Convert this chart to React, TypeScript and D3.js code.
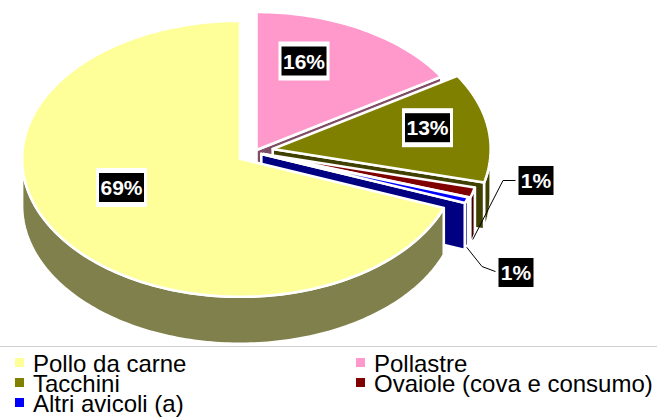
import React from "react";
import * as d3 from "d3";

// chart values
const categories = [
  "Pollo da carne",
  "Pollastre",
  "Tacchini",
  "Ovaiole (cova e consumo)",
  "Altri avicoli (a)",
];
const values = [69.2, 16.1, 12.8, 1.2, 0.7];
const labels = ["69%", "16%", "13%", "1%", "1%"];
const colors = ["#FFFF99", "#FF99CC", "#808000", "#800000", "#0000FF"];

// layout
const W = 657;
const H = 419;
const center: [number, number] = [250, 154.5];
const rx = 218;
const ry = 138;
const depth = 47;
// exploded offset of each slice from the pie centre
const shift: [number, number][] = [
  [-9.9, 4.3],
  [6.5, -4.5],
  [22.7, -5.5],
  [13.4, -0.5],
  [11.3, -0.6],
];
const labelAt: [number, number][] = [
  [121.5, 187.5],
  [304, 61],
  [427.5, 127.7],
  [536, 180.5],
  [516, 272.5],
];
const font = "'Liberation Sans', Arial, sans-serif";

type Pt = [number, number];

const project = (c: Pt, a: number, dy = 0): Pt => [
  c[0] + rx * Math.sin(a),
  c[1] - ry * Math.cos(a) + dy,
];

const arcPts = (c: Pt, a0: number, a1: number, dy = 0): Pt[] => {
  const n = Math.max(2, Math.ceil(Math.abs(a1 - a0) / 0.02));
  return d3.range(n + 1).map((i) => project(c, a0 + ((a1 - a0) * i) / n, dy));
};

const line = d3.line<Pt>().x((d) => d[0]).y((d) => d[1]);
const closed = (pts: Pt[]) => line(pts) + "Z";

const darker = (col: string) => {
  const c = d3.rgb(col);
  return d3.rgb(c.r * 0.5, c.g * 0.5, c.b * 0.5).formatHex();
};

// visible part of the outer wall (surface facing the viewer: cos(a) < 0)
const frontRanges = (a0: number, a1: number) => {
  const out: [number, number][] = [];
  for (let k = -2; k <= 1; k++) {
    const lo = Math.max(a0, Math.PI / 2 + 2 * Math.PI * k);
    const hi = Math.min(a1, (3 * Math.PI) / 2 + 2 * Math.PI * k);
    if (hi > lo) out.push([lo, hi]);
  }
  return out;
};

export default function App() {
  const total = d3.sum(values);
  const start = -(values[0] / total) * 2 * Math.PI;
  const arcs = d3
    .pie<number>()
    .sort(null)
    .startAngle(start)
    .endAngle(start + 2 * Math.PI)(values);

  const slices = arcs.map((a, i) => {
    const mid = (a.startAngle + a.endAngle) / 2;
    const c: Pt = [center[0] + shift[i][0], center[1] + shift[i][1]];
    return { i, a0: a.startAngle, a1: a.endAngle, mid, c };
  });

  const order = [...slices].sort((p, q) => Math.cos(q.mid) - Math.cos(p.mid));

  const walls = (s: (typeof slices)[number]) => {
    const { a0, a1, c } = s;
    const paths: string[] = [];
    const radial = (a: number) =>
      closed([c, project(c, a), project(c, a, depth), [c[0], c[1] + depth]]);
    if (Math.sin(a0) < -1e-6) paths.push(radial(a0));
    if (Math.sin(a1) > 1e-6) paths.push(radial(a1));
    frontRanges(a0, a1).forEach(([lo, hi]) => {
      paths.push(
        closed([...arcPts(c, lo, hi), ...arcPts(c, hi, lo, depth)]),
      );
    });
    return paths;
  };

  // leader lines for the two small slices
  const anchor = (s: (typeof slices)[number]) => project(s.c, s.mid, depth);
  const leaders: Pt[][] = [
    [
      [labelAt[3][0] - 18, labelAt[3][1]],
      [labelAt[3][0] - 33, labelAt[3][1]],
      anchor(slices[3]),
    ],
    [
      anchor(slices[4]),
      [labelAt[4][0] - 34, labelAt[4][1] - 6],
      [labelAt[4][0] - 18, labelAt[4][1]],
    ],
  ];

  const legendRows = [0, 0, 1, 1, 2];
  const legendCols = [0, 1, 0, 1, 0];
  const colX = [15, 356];
  const rowY = [372, 392, 412];

  return (
    <svg
      width={W}
      height={H}
      style={{ position: "absolute", left: 0, top: 0, background: "#fff" }}
    >
      <g>
        {order.map((s) => (
          <g key={s.i}>
            {walls(s).map((d, k) => (
              <path
                key={k}
                d={d}
                fill={darker(colors[s.i])}
                stroke="#fff"
                strokeWidth={2.6}
                strokeLinejoin="round"
              />
            ))}
            <path
              d={closed([s.c, ...arcPts(s.c, s.a0, s.a1)])}
              fill={colors[s.i]}
              stroke="#fff"
              strokeWidth={2.6}
              strokeLinejoin="round"
            />
          </g>
        ))}
      </g>

      {leaders.map((pts, k) => (
        <path key={k} d={line(pts)!} fill="none" stroke="#000" strokeWidth={1} />
      ))}

      {labels.map((t, i) => {
        const w = t.length > 2 ? 45 : 35;
        const [x, y] = labelAt[i];
        return (
          <g key={i}>
            <rect x={x - w / 2 - 3} y={y - 14.5 - 5} width={w + 6} height={39} fill="#fff" />
            <rect x={x - w / 2} y={y - 14.5} width={w} height={29} fill="#000" />
            <text
              x={x}
              y={y + 7.5}
              textAnchor="middle"
              fill="#fff"
              fontFamily={font}
              fontWeight="bold"
              fontSize={21}
            >
              {t}
            </text>
          </g>
        );
      })}

      <line x1={0} x2={W} y1={346.5} y2={346.5} stroke="#d0d0d0" strokeWidth={1} />

      {categories.map((name, i) => {
        const x = colX[legendCols[i]];
        const y = rowY[legendRows[i]];
        return (
          <g key={name}>
            <rect x={x} y={y - 14} width={9} height={9} fill={colors[i]} />
            <text x={x + 18} y={y} fontFamily={font} fontSize={24} fill="#000">
              {name}
            </text>
          </g>
        );
      })}
    </svg>
  );
}
